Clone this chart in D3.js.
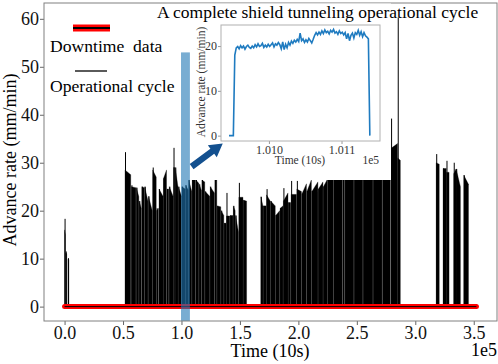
<!DOCTYPE html>
<html>
<head>
<meta charset="utf-8">
<script src="https://cdn.jsdelivr.net/npm/d3@7"></script>
<style>
body{margin:0;background:#fff}
text{font-family:"Liberation Serif","Times New Roman",serif}
</style>
</head>
<body>
<div id="chart"></div>
<script>
// operational cycles of the main plot (time in 10 s units)
var cycleStart = [0,1000,2900,
  51700,57200,61500,63900,66100,68600,71800,75400,78800,80800,84600,87600,89600,93200,94700,97400,
  100400,103600,106200,109200,112400,115200,117500,120300,124600,128600,130600,134000,136600,138500,
  141700,144400,146300,149100,153000,
  167900,170100,172800,176300,180600,184400,187200,191500,193800,198700,203000,207300,211500,217100,
  221400,225000,230200,238000,240000,247900,255600,264200,272100,279300,285000,
  317900,323800,326700,332900,335000,341500]
var cycleEnd = [700,1800,3700,
  56600,61000,63500,65600,68200,71300,75000,78400,80300,84200,87200,89100,92800,94300,97000,100000,
  103200,105800,108800,112000,114800,117100,119900,124200,128200,130200,133600,136200,138100,141300,
  144000,145900,148700,152600,155700,
  169700,172400,175900,180200,184000,186800,191100,193400,198300,202600,206900,211100,216700,221000,
  224500,229700,237500,239500,247400,255100,263700,271500,278700,284800,287200,
  320500,326500,328900,334900,338600,345500]
var cyclePeak = [18.3,11.5,10.1,
  32.2,25.3,24.8,22.0,25.0,25.0,23.0,29.0,20.5,24.5,26.7,24.5,25.0,33.1,29.0,25.0,
  25.0,25.3,26.4,26.4,26.4,25.5,26.4,24.0,25.0,26.4,21.0,20.0,17.4,23.7,
  19.0,21.0,19.0,25.8,22.2,
  22.9,21.0,24.5,22.0,19.0,20.5,24.7,21.7,26.2,26.2,23.5,24.0,24.0,24.5,
  25.0,26.4,26.4,26.4,26.4,26.4,26.4,26.4,26.4,39.2,60.3,
  31.8,28.8,30.4,30.0,28.7,27.4]
var cycleLevel = [16.0,11.2,9.9,
  28.5,25.0,24.8,22.0,25.0,25.0,23.0,28.5,20.0,24.5,26.7,24.5,25.0,29.0,29.0,25.0,
  25.0,25.3,26.4,26.4,26.4,25.5,26.4,24.0,25.0,26.4,21.0,20.0,17.4,18.9,
  19.0,21.0,19.0,22.8,22.2,
  22.9,21.0,23.3,22.0,19.0,20.5,22.0,21.7,23.4,24.5,23.5,24.0,24.0,24.5,
  25.0,26.4,26.4,26.4,26.4,26.4,26.4,26.4,26.4,33.0,31.0,
  30.0,28.8,28.0,27.7,28.7,27.4]
var cycleEndLevel = [15.0,11.0,9.8,
  27.5,24.8,22.9,20.5,24.8,22.0,20.0,27.0,20.5,23.0,28.5,24.5,23.0,29.0,25.0,23.0,
  24.5,24.3,24.0,26.4,25.7,24.2,26.0,23.0,23.7,26.4,20.8,19.0,17.4,18.9,
  19.0,20.0,15.6,22.8,22.0,
  21.0,21.0,22.0,21.0,20.0,21.0,23.7,21.7,23.4,24.0,25.6,26.4,26.0,26.0,
  26.4,26.4,26.4,26.4,26.4,26.4,26.4,26.4,26.4,34.0,30.5,
  29.7,28.8,28.0,28.7,25.0,25.5]

var downtimeRange = [0, 352300]
var highlightRange = [99600, 107200]
var highlightTop = 53
var arrowFrom = [108700, 29.2]
var arrowTo = [135300, 34.0]

// inset: one complete cycle
var insetStart = 100945
var insetStep = 2
var insetValues = [0,0,0,0,18.0,19.6,19.9,19.4,20.1,19.6,20.0,19.3,19.9,20.2,19.7,19.5,20.0,19.6,20.3,19.8,
  20.5,19.9,20.1,20.6,19.7,20.2,19.8,20.4,19.9,20.3,20.7,19.8,20.5,20.2,20.8,20.3,19.4,20.9,19.2,20.4,
  19.6,20.8,20.2,21.1,20.6,21.3,20.9,21.5,21.0,22.9,21.2,21.6,20.8,21.4,20.9,21.7,21.2,20.7,21.5,22.4,
  23.0,22.5,23.1,22.6,23.4,22.8,23.6,23.0,23.3,22.7,23.5,23.1,23.7,22.9,23.2,22.6,23.4,22.8,23.1,22.5,
  23.0,21.6,22.8,21.2,22.4,22.9,21.8,23.0,22.6,23.5,22.4,23.2,22.1,23.0,22.3,22.0,21.6,0]

var xTicks = [0,50000,100000,150000,200000,250000,300000,350000]
var yTicks = [0,10,20,30,40,50,60]
var insetXTicks = [101000,101100]
var insetYTicks = [0,10,20]

dibujar()

function dibujar(){
  var W=498, H=364
  var svg=d3.select("#chart").append("svg").attr("width",W).attr("height",H)

  var x=d3.scaleLinear().domain([-17600,369900]).range([44,497])
  var y=d3.scaleLinear().domain([-3,63.3]).range([321,3])

  // cycles
  var cycles=cycleStart.map(function(s,i){
    return {s:s,e:cycleEnd[i],peak:cyclePeak[i],level:cycleLevel[i],endV:cycleEndLevel[i]}
  })
  var area=d3.line().x(function(d){return x(d[0])}).y(function(d){return y(d[1])})
  svg.append("g").selectAll("path").data(cycles).enter().append("path")
    .attr("d",function(d){return area([[d.s,0],[d.s,d.level],[d.e,d.endV],[d.e,0]])+"Z"})
    .attr("fill","#000").attr("stroke","#000").attr("stroke-width",0.3)
  svg.append("g").selectAll("line").data(cycles).enter().append("line")
    .attr("x1",function(d){return x(d.s)+0.5}).attr("x2",function(d){return x(d.s)+0.5})
    .attr("y1",y(0)).attr("y2",function(d){return y(d.peak)})
    .attr("stroke","#000").attr("stroke-width",1)

  // downtime data at zero
  svg.append("line").attr("x1",x(downtimeRange[0])).attr("x2",x(downtimeRange[1]))
    .attr("y1",y(0)).attr("y2",y(0)).attr("stroke","#ff0000").attr("stroke-width",5)
    .attr("stroke-linecap","round")
  svg.append("line").attr("x1",x(downtimeRange[0])).attr("x2",x(downtimeRange[1]))
    .attr("y1",y(0)).attr("y2",y(0)).attr("stroke","#000").attr("stroke-width",1)

  // highlighted cycle
  svg.append("rect").attr("x",x(highlightRange[0])).attr("width",x(highlightRange[1])-x(highlightRange[0]))
    .attr("y",y(highlightTop)).attr("height",y(-3)-y(highlightTop))
    .attr("fill","#1f77b4").attr("fill-opacity",0.6)

  // axes
  var gx=svg.append("g").attr("transform","translate(0,321)")
    .call(d3.axisBottom(x).tickValues(xTicks).tickSize(4).tickPadding(1)
      .tickFormat(function(d){return (d/1e5).toFixed(1)}))
  var gy=svg.append("g").attr("transform","translate(44,0)")
    .call(d3.axisLeft(y).tickValues(yTicks).tickSize(4).tickPadding(1))
  ;[gx,gy].forEach(function(g){
    g.select(".domain").remove()
    g.selectAll("line").attr("stroke","#666")
    g.selectAll("text").attr("font-size",18).attr("fill","#111")
      .style("font-family","'Liberation Serif',serif")
  })
  svg.append("rect").attr("x",44).attr("y",3).attr("width",453).attr("height",318)
    .attr("fill","none").attr("stroke","#808080")

  svg.append("text").attr("x",270).attr("y",357).attr("text-anchor","middle")
    .attr("font-size",18).text("Time (10s)")
  svg.append("text").attr("x",497).attr("y",356).attr("text-anchor","end")
    .attr("font-size",18).text("1e5")
  svg.append("text").attr("transform","translate(15.5,160) rotate(-90)").attr("text-anchor","middle")
    .attr("font-size",18).text("Advance rate (mm/min)")

  // legend
  svg.append("line").attr("x1",73).attr("x2",110).attr("y1",28).attr("y2",28)
    .attr("stroke","#ff0000").attr("stroke-width",7)
  svg.append("line").attr("x1",73).attr("x2",110).attr("y1",28).attr("y2",28)
    .attr("stroke","#000").attr("stroke-width",2)
  svg.append("text").attr("x",50).attr("y",52).attr("font-size",17.6)
    .style("white-space","pre").text("Downtime  data")
  svg.append("line").attr("x1",75).attr("x2",107).attr("y1",71).attr("y2",71)
    .attr("stroke","#000").attr("stroke-width",1.3)
  svg.append("text").attr("x",50).attr("y",92).attr("font-size",17.6).text("Operational cycle")

  // inset panel (white backing covers the main plot)
  svg.append("rect").attr("x",190).attr("y",3.5).attr("width",201).attr("height",176.5).attr("fill","#fff")

  var ix=d3.scaleLinear().domain([100934,101153]).range([221,380])
  var iy=d3.scaleLinear().domain([-1.2,24.7]).range([141,25])
  var insetData=insetValues.map(function(v,i){return {t:insetStart+i*insetStep,v:v}})

  var igx=svg.append("g").attr("transform","translate(0,141)")
    .call(d3.axisBottom(ix).tickValues(insetXTicks).tickSize(3).tickPadding(1)
      .tickFormat(function(d){return (d/1e5).toFixed(3)}))
  var igy=svg.append("g").attr("transform","translate(221,0)")
    .call(d3.axisLeft(iy).tickValues(insetYTicks).tickSize(3).tickPadding(1))
  ;[igx,igy].forEach(function(g){
    g.select(".domain").remove()
    g.selectAll("line").attr("stroke","#999")
    g.selectAll("text").attr("font-size",12).attr("fill","#333")
      .style("font-family","'Liberation Serif',serif")
  })
  svg.append("path").datum(insetData)
    .attr("d",d3.line().x(function(d){return ix(d.t)}).y(function(d){return iy(d.v)}))
    .attr("fill","none").attr("stroke","#1f7bc0").attr("stroke-width",1.6)
  svg.append("rect").attr("x",221).attr("y",25).attr("width",159).attr("height",116)
    .attr("fill","none").attr("stroke","#b0b0b0")
  svg.append("text").attr("x",300).attr("y",164).attr("text-anchor","middle")
    .attr("font-size",11.5).attr("fill","#333").text("Time (10s)")
  svg.append("text").attr("x",379).attr("y",164).attr("text-anchor","end")
    .attr("font-size",11.5).attr("fill","#333").text("1e5")
  svg.append("text").attr("transform","translate(205,82) rotate(-90)").attr("text-anchor","middle")
    .attr("font-size",11.5).attr("fill","#333").text("Advance rate (mm/min)")

  // arrow
  var p0=[x(arrowFrom[0]),y(arrowFrom[1])], p1=[x(arrowTo[0]),y(arrowTo[1])]
  var dx=p1[0]-p0[0], dy=p1[1]-p0[1], len=Math.sqrt(dx*dx+dy*dy)
  var ux=dx/len, uy=dy/len, nx=-uy, ny=ux
  var hl=13, hw=7.5, sw=3.2
  var b=[p1[0]-ux*hl,p1[1]-uy*hl]
  var pts=[[p0[0]+nx*sw,p0[1]+ny*sw],[b[0]+nx*sw,b[1]+ny*sw],[b[0]+nx*hw,b[1]+ny*hw],p1,
    [b[0]-nx*hw,b[1]-ny*hw],[b[0]-nx*sw,b[1]-ny*sw],[p0[0]-nx*sw,p0[1]-ny*sw]]
  svg.append("path").attr("d","M"+pts.join("L")+"Z").attr("fill","#13508f")

  // title
  svg.append("text").attr("x",157).attr("y",18).attr("font-size",17.5)
    .text("A complete shield tunneling operational cycle")
}
</script>
</body>
</html>
